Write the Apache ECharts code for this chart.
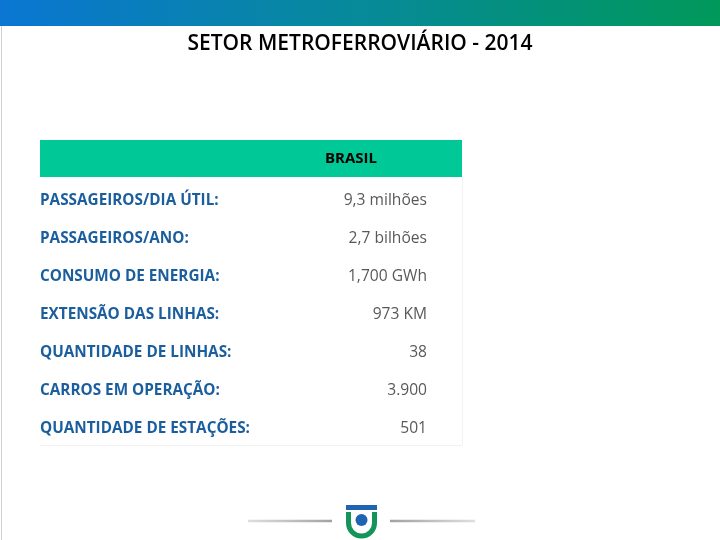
<!DOCTYPE html>
<html><head><meta charset="utf-8">
<script src="https://cdn.jsdelivr.net/npm/echarts@6/dist/echarts.min.js"></script>
<style>html,body{margin:0;padding:0;background:#fff}#c{width:720px;height:540px}</style>
</head><body><div id="c"></div>
<script>
const title = 'SETOR METROFERROVIÁRIO - 2014';
const columnHeader = 'BRASIL';
const rowLabels = ['PASSAGEIROS/DIA ÚTIL:', 'PASSAGEIROS/ANO:', 'CONSUMO DE ENERGIA:', 'EXTENSÃO DAS LINHAS:', 'QUANTIDADE DE LINHAS:', 'CARROS EM OPERAÇÃO:', 'QUANTIDADE DE ESTAÇÕES:'];
const rowValues = ['9,3 milhões', '2,7 bilhões', '1,700 GWh', '973 KM', '38', '3.900', '501'];

const chart = echarts.init(document.getElementById('c'));
chart.setOption({
  animation: false,
  backgroundColor: '#fff',
  title: {text: title, left: 'center', top: 29, textStyle: {fontFamily: 'Open Sans', fontSize: 21, fontWeight: 600, color: '#000'}},
  grid: {left: 40, right: 293, top: 182, bottom: 92},
  xAxis: {type: 'value', min: 0, max: 1, show: false},
  yAxis: {type: 'category', inverse: true, data: rowLabels,
    axisLine: {show: false}, axisTick: {show: false}, splitLine: {show: false},
    axisLabel: {align: 'left', margin: 0, fontFamily: 'Open Sans', fontSize: 15.3, fontWeight: 'bold', color: '#1b5e9e'}},
  series: [{
    type: 'scatter', symbolSize: 0,
    data: rowValues.map((v, i) => ({value: [1, i], name: v})),
    label: {show: true, position: 'left', distance: 0, formatter: p => p.name,
      fontFamily: 'Open Sans', fontSize: 15.6, color: '#2e2e2e'}
  }],
  graphic: [
    {type: 'rect', shape: {x: 0, y: 0, width: 720, height: 26}, z: 0,
      style: {fill: new echarts.graphic.LinearGradient(0, 0, 1, 0, [{offset: 0, color: '#0a76d2'}, {offset: 0.5, color: '#078a9a'}, {offset: 1, color: '#00985a'}])}},
    {type: 'line', shape: {x1: 1.5, y1: 26, x2: 1.5, y2: 540}, style: {stroke: '#d0d0d0', lineWidth: 1}},
    {type: 'rect', shape: {x: 40, y: 140, width: 422, height: 37}, style: {fill: '#00c896'}, z: 0},
    {type: 'text', x: 351, y: 159, style: {text: columnHeader, align: 'center', verticalAlign: 'middle', fontFamily: 'Open Sans', fontSize: 15, fontWeight: 'bold', fill: '#000'}},
    {type: 'line', shape: {x1: 462.5, y1: 177, x2: 462.5, y2: 445}, style: {stroke: '#f2f2f2', lineWidth: 1}},
    {type: 'line', shape: {x1: 40, y1: 445.5, x2: 462, y2: 445.5}, style: {stroke: '#f2f2f2', lineWidth: 1}},
    {type: 'line', shape: {x1: 248, y1: 521, x2: 332, y2: 521}, style: {stroke: new echarts.graphic.LinearGradient(0, 0, 1, 0, [{offset: 0, color: '#e0e0e0'}, {offset: 1, color: '#a0a0a0'}]), lineWidth: 2.5}},
    {type: 'line', shape: {x1: 390, y1: 521, x2: 475, y2: 521}, style: {stroke: new echarts.graphic.LinearGradient(0, 0, 1, 0, [{offset: 0, color: '#a0a0a0'}, {offset: 1, color: '#e0e0e0'}]), lineWidth: 2.5}},
    {type: 'rect', shape: {x: 346, y: 505, width: 31, height: 5}, style: {fill: '#1f64b0'}},
    {type: 'rect', shape: {x: 346, y: 512, width: 5, height: 11}, style: {fill: '#15945a'}},
    {type: 'rect', shape: {x: 372, y: 512, width: 5, height: 11}, style: {fill: '#15945a'}},
    {type: 'sector', shape: {cx: 361.5, cy: 523, r: 15.5, r0: 10.5, startAngle: 0, endAngle: Math.PI}, style: {fill: '#15945a'}},
    {type: 'circle', shape: {cx: 361.5, cy: 520, r: 6}, style: {fill: '#1f64b0'}}
  ]
});
</script></body></html>
